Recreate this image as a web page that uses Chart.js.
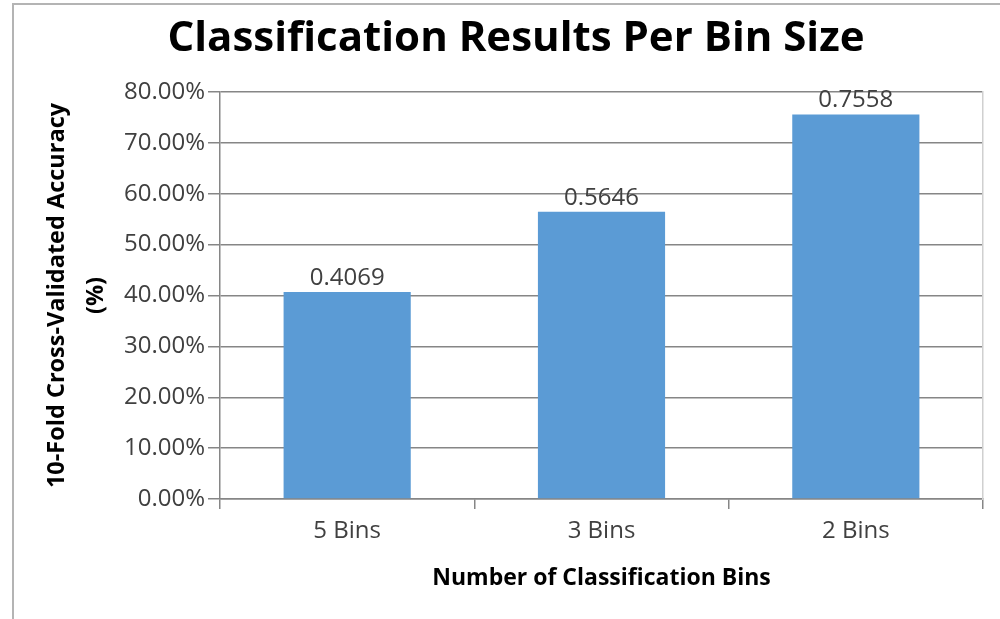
<!DOCTYPE html>
<html>
<head>
<meta charset="utf-8">
<script src="https://cdn.jsdelivr.net/npm/chart.js@4.4.0/dist/chart.umd.min.js"></script>
<style>
  html, body { margin: 0; padding: 0; background: #ffffff; overflow: hidden; }
  #wrap { position: relative; width: 1000px; height: 619px; }
  #frame { position: absolute; left: 12px; top: 3px; width: 1100px; height: 700px;
           border-left: 2px solid #b4b4b4; border-top: 2px solid #b4b4b4; box-sizing: border-box; }
  canvas { position: absolute; left: 0; top: 0; }
</style>
</head>
<body>
<div id="wrap">
  <div id="frame"></div>
  <canvas id="chart" width="1000" height="619"></canvas>
</div>
<script>
// Accuracy per number of classification bins
const categories = ['5 Bins', '3 Bins', '2 Bins'];
const accuracy = [0.4069, 0.5646, 0.7558];
const yTickValues = [0, 0.1, 0.2, 0.3, 0.4, 0.5, 0.6, 0.7, 0.8];

const chartTitle = 'Classification Results Per Bin Size';
const xTitle = 'Number of Classification Bins';
const yTitle = ['10-Fold Cross-Validated Accuracy', '(%)'];

const FONT = "'Open Sans', 'Liberation Sans', sans-serif";
const TEXT = '#404040';
const AXIS = '#868686';

// Value labels above each bar
const barValueLabels = {
  id: 'barValueLabels',
  afterDatasetsDraw(chart) {
    const ctx = chart.ctx;
    ctx.save();
    ctx.font = `24px ${FONT}`;
    ctx.fillStyle = TEXT;
    ctx.textAlign = 'center';
    ctx.textBaseline = 'bottom';
    chart.data.datasets.forEach((ds, di) => {
      chart.getDatasetMeta(di).data.forEach((bar, i) => {
        ctx.fillText(ds.data[i].toFixed(4), bar.x, bar.y - 2);
      });
    });
    ctx.restore();
  }
};

new Chart(document.getElementById('chart'), {
  type: 'bar',
  data: {
    labels: categories,
    datasets: [{
      data: accuracy,
      backgroundColor: '#5B9BD5',
      borderWidth: 0,
      barPercentage: 0.5,
      categoryPercentage: 1.0
    }]
  },
  options: {
    responsive: false,
    devicePixelRatio: 1,
    animation: false,
    layout: { padding: { left: 49, right: 17, top: 0, bottom: 0 } },
    plugins: {
      legend: { display: false },
      tooltip: { enabled: false },
      title: {
        display: true,
        text: chartTitle,
        color: '#000000',
        font: { family: FONT, size: 42, weight: 'bold', lineHeight: 1.2 },
        padding: { top: 14, bottom: 27.6 }
      }
    },
    scales: {
      x: {
        afterFit(scale) { scale.height = 120; },
        grid: {
          offset: true,
          drawOnChartArea: false,
          drawTicks: true,
          tickLength: 10,
          color: AXIS,
          lineWidth: 1.5
        },
        border: { display: true, color: AXIS, width: 1.5 },
        ticks: {
          color: TEXT,
          padding: 8,
          font: { family: FONT, size: 24 }
        },
        title: {
          display: true,
          text: xTitle,
          color: '#000000',
          font: { family: FONT, size: 23, weight: 'bold', lineHeight: 1.2 },
          padding: { top: 0, bottom: 27 }
        }
      },
      y: {
        min: 0,
        max: 0.8,
        afterFit(scale) { scale.width = 171; },
        afterBuildTicks(scale) { scale.ticks = yTickValues.map(v => ({ value: v })); },
        grid: {
          color: AXIS,
          lineWidth: 1.5,
          drawTicks: true,
          tickLength: 12
        },
        border: { display: true, color: AXIS, width: 1.5 },
        ticks: {
          color: TEXT,
          padding: 3,
          font: { family: FONT, size: 24 },
          callback: (v) => (v * 100).toFixed(2) + '%'
        },
        title: {
          display: true,
          text: yTitle,
          color: '#000000',
          font: { family: FONT, size: 23.5, weight: 'bold', lineHeight: 1.66 },
          padding: { top: -11.5, bottom: 0 }
        }
      },
      yRight: {
        position: 'right',
        min: 0,
        max: 0.8,
        afterFit(scale) { scale.width = 0; },
        grid: { display: false, drawTicks: false },
        border: { display: true, color: '#d0d0d0', width: 1.5 },
        ticks: { display: false }
      }
    }
  },
  plugins: [barValueLabels]
});
</script>
</body>
</html>
